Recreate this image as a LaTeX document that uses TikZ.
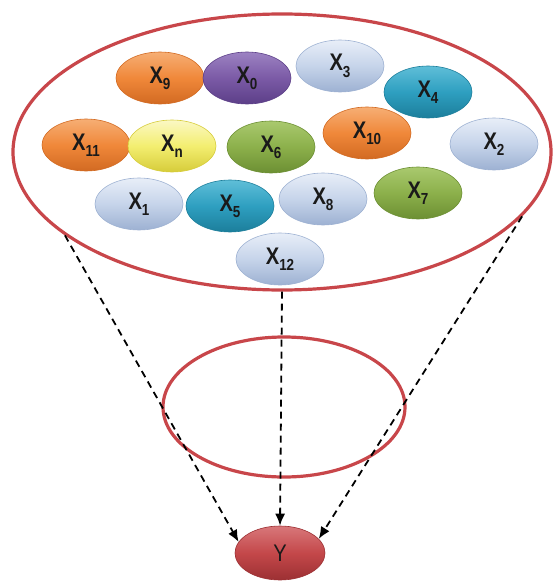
\documentclass[tikz,border=0pt]{standalone}
\usepackage{fontspec}
\setmainfont{Liberation Sans}
\newfontfamily\varfont[FakeStretch=0.84]{Liberation Sans}
\usetikzlibrary{shapes.geometric,arrows.meta}

% colours of the variable discs
\definecolor{ringred}{HTML}{C8464A}
\definecolor{ink}{HTML}{1A1A1A}
\definecolor{vOrange}{HTML}{F0883A}
\definecolor{vOrangeLight}{HTML}{F6AE74}
\definecolor{vOrangeDark}{HTML}{D26A22}
\definecolor{vPurple}{HTML}{7B5AA6}
\definecolor{vPurpleLight}{HTML}{9C82C2}
\definecolor{vPurpleDark}{HTML}{5C3F88}
\definecolor{vIce}{HTML}{C6D4EA}
\definecolor{vIceLight}{HTML}{E8EEF8}
\definecolor{vIceDark}{HTML}{9DB1D2}
\definecolor{vTeal}{HTML}{2E9FC0}
\definecolor{vTealLight}{HTML}{5FBED8}
\definecolor{vTealDark}{HTML}{1C7E9B}
\definecolor{vGreen}{HTML}{8CB04B}
\definecolor{vGreenLight}{HTML}{A9C96E}
\definecolor{vGreenDark}{HTML}{6C8F33}
\definecolor{vYellow}{HTML}{F3EE70}
\definecolor{vYellowLight}{HTML}{FBF8C4}
\definecolor{vYellowDark}{HTML}{D6CC3A}
\definecolor{vRed}{HTML}{C4484A}
\definecolor{vRedLight}{HTML}{D8777A}
\definecolor{vRedDark}{HTML}{9C3033}

\newcommand{\lowsub}[1]{\raisebox{-0.5ex}{\fontsize{16}{16}\selectfont #1}}

\tikzset{
  ring/.style={ellipse, draw=ringred, line width=3.2pt, inner sep=0pt},
  var/.style={ellipse, minimum width=88pt, minimum height=52pt, inner sep=0pt,
    draw=#1Dark, line width=0.6pt,
    top color=#1Light, bottom color=#1Dark, middle color=#1,
    text=ink, font=\varfont\bfseries\fontsize{24}{26}\selectfont},
  flow/.style={black, line width=1.8pt, dash pattern=on 7pt off 5pt,
    -{Latex[length=12pt,width=10pt]}}
}

\begin{document}
\begin{tikzpicture}[x=1pt, y=-1pt]
    \useasboundingbox (0,0) rectangle (554,583);

    % ===== OUTER POOL OF VARIABLES =====
    \node[ring, minimum width=538pt, minimum height=276pt] (pool) at (282,152) {};

    % --- first row ---
    \node[var=vOrange] (x9)  at (160,78)  {X\lowsub{9}};
    \node[var=vPurple] (x0)  at (247,78)  {X\lowsub{0}};
    \node[var=vIce]    (x3)  at (340,66)  {X\lowsub{3}};
    \node[var=vTeal]   (x4)  at (428,92)  {X\lowsub{4}};

    % --- second row ---
    \node[var=vOrange] (x11) at (86,145)  {X\lowsub{11}};
    \node[var=vYellow] (xn)  at (172,146) {X\lowsub{n}};
    \node[var=vGreen]  (x6)  at (271,147) {X\lowsub{6}};
    \node[var=vOrange] (x10) at (367,133) {X\lowsub{10}};
    \node[var=vIce]    (x2)  at (494,144) {X\lowsub{2}};

    % --- third row ---
    \node[var=vIce]    (x1)  at (139,204) {X\lowsub{1}};
    \node[var=vTeal]   (x5)  at (230,206) {X\lowsub{5}};
    \node[var=vIce]    (x8)  at (323,199) {X\lowsub{8}};
    \node[var=vGreen]  (x7)  at (418,193) {X\lowsub{7}};
    \node[var=vIce]    (x12) at (280,259) {X\lowsub{12}};

    % ===== FUNNEL RING AND TARGET =====
    \node[ring, minimum width=242pt, minimum height=140pt] (funnel) at (284,407) {};
    \node[var=vRed, minimum width=90pt, minimum height=54pt,
          font=\varfont\fontsize{24}{26}\selectfont] (y) at (280,553) {Y};

    % ===== DASHED FLOWS INTO Y =====
    \draw[flow] (pool.201) -- (y.165);
    \draw[flow] (pool.south) -- (y.north);
    \draw[flow] (pool.-15) -- (y.20);

\end{tikzpicture}
\end{document}
